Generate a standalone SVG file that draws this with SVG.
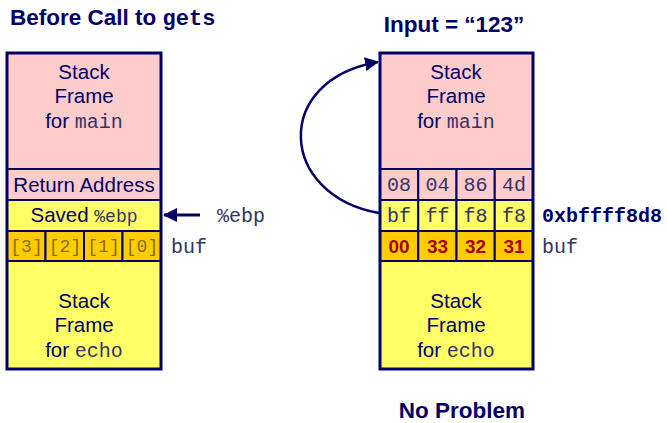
<svg xmlns="http://www.w3.org/2000/svg" width="667" height="423" viewBox="0 0 667 423">
<style>
.t{font-family:"Liberation Sans",Arial,sans-serif;font-size:20.5px;fill:#000066;text-anchor:middle}
.h{font-family:"Liberation Sans",Arial,sans-serif;font-size:22.5px;font-weight:bold;fill:#000066}
.m{font-family:"Liberation Mono","Courier New",monospace;fill:#333366}
.c{font-family:"Liberation Mono","Courier New",monospace;font-size:20px;fill:#333366;text-anchor:middle}
.b{font-family:"Liberation Mono","Courier New",monospace;font-size:18px;fill:#8a6d10;text-anchor:middle}
.r{font-family:"Liberation Sans",Arial,sans-serif;font-size:19px;font-weight:bold;fill:#aa0000;text-anchor:middle}
.pk{fill:#ffcccc;stroke:#000066;stroke-width:2}
.yl{fill:#ffff66;stroke:#000066;stroke-width:2}
.or{fill:#ffcc00;stroke:#000066;stroke-width:2}
.ob{fill:none;stroke:#000066;stroke-width:3}
</style>
<defs>
<marker id="ah2" markerWidth="14" markerHeight="14" refX="13" refY="7" orient="auto" markerUnits="userSpaceOnUse" viewBox="0 0 14 14">
<path d="M0,0 L14,7 L0,14 z" fill="#000066"/>
</marker>
</defs>
<text class="h" x="10" y="25">Before Call to <tspan font-family="Liberation Mono,Courier New,monospace" font-size="22">gets</tspan></text>
<text class="h" x="454" y="32" text-anchor="middle">Input = “123”</text>
<text class="h" x="462" y="418" text-anchor="middle">No Problem</text>

<g id="left-stack">
<rect class="pk" x="7" y="53" width="154" height="116"/>
<text class="t" x="84" y="79">Stack</text>
<text class="t" x="84" y="103">Frame</text>
<text class="t" x="84" y="128">for <tspan class="m" font-size="20">main</tspan></text>
<rect class="pk" x="7" y="169" width="154" height="31"/>
<text class="t" x="84" y="192">Return Address</text>
<rect class="yl" x="7" y="200" width="154" height="31"/>
<text class="t" x="84" y="222">Saved <tspan class="m" font-size="18">%ebp</tspan></text>
<rect class="or" x="7" y="231" width="38.5" height="30"/>
<rect class="or" x="45.5" y="231" width="38.5" height="30"/>
<rect class="or" x="84" y="231" width="38.5" height="30"/>
<rect class="or" x="122.5" y="231" width="38.5" height="30"/>
<text class="b" x="26.5" y="252">[3]</text>
<text class="b" x="65" y="252">[2]</text>
<text class="b" x="103.5" y="252">[1]</text>
<text class="b" x="142" y="252">[0]</text>
<rect class="yl" x="7" y="261" width="154" height="108"/>
<text class="t" x="84" y="308">Stack</text>
<text class="t" x="84" y="332">Frame</text>
<text class="t" x="84" y="357">for <tspan class="m" font-size="20">echo</tspan></text>
<rect class="ob" x="7" y="53" width="154" height="316"/>
</g>
<text class="m" font-size="20" x="171" y="253">buf</text>
<text class="m" font-size="20" x="217" y="222">%ebp</text>

<g id="right-stack">
<rect class="pk" x="380" y="53" width="153" height="116"/>
<text class="t" x="456" y="79">Stack</text>
<text class="t" x="456" y="103">Frame</text>
<text class="t" x="456" y="128">for <tspan class="m" font-size="20">main</tspan></text>
<rect class="pk" x="380" y="169" width="38.25" height="31"/>
<rect class="pk" x="418.25" y="169" width="38.25" height="31"/>
<rect class="pk" x="456.5" y="169" width="38.25" height="31"/>
<rect class="pk" x="494.75" y="169" width="38.25" height="31"/>
<text class="c" x="399" y="191">08</text>
<text class="c" x="437.5" y="191">04</text>
<text class="c" x="475.5" y="191">86</text>
<text class="c" x="514" y="191">4d</text>
<rect class="yl" x="380" y="200" width="38.25" height="31"/>
<rect class="yl" x="418.25" y="200" width="38.25" height="31"/>
<rect class="yl" x="456.5" y="200" width="38.25" height="31"/>
<rect class="yl" x="494.75" y="200" width="38.25" height="31"/>
<text class="c" x="399" y="222">bf</text>
<text class="c" x="437.5" y="222">ff</text>
<text class="c" x="475.5" y="222">f8</text>
<text class="c" x="514" y="222">f8</text>
<rect class="or" x="380" y="231" width="38.25" height="30"/>
<rect class="or" x="418.25" y="231" width="38.25" height="30"/>
<rect class="or" x="456.5" y="231" width="38.25" height="30"/>
<rect class="or" x="494.75" y="231" width="38.25" height="30"/>
<text class="r" x="399" y="253">00</text>
<text class="r" x="437.5" y="253">33</text>
<text class="r" x="475.5" y="253">32</text>
<text class="r" x="514" y="253">31</text>
<rect class="yl" x="380" y="261" width="153" height="108"/>
<text class="t" x="456" y="308">Stack</text>
<text class="t" x="456" y="332">Frame</text>
<text class="t" x="456" y="357">for <tspan class="m" font-size="20">echo</tspan></text>
<rect class="ob" x="380" y="53" width="153" height="316"/>
</g>
<text font-family="Liberation Mono,Courier New,monospace" font-size="20" font-weight="bold" fill="#000066" x="542" y="222">0xbffff8d8</text>
<text class="m" font-size="20" x="542" y="253">buf</text>

<g id="connectors">
<line x1="200" y1="215" x2="164" y2="215" stroke="#000066" stroke-width="3" marker-end="url(#ah2)"/>
<path d="M379,213 C278,195 272,80 378,62" fill="none" stroke="#000066" stroke-width="2.5" marker-end="url(#ah2)"/>
</g>
</svg>
